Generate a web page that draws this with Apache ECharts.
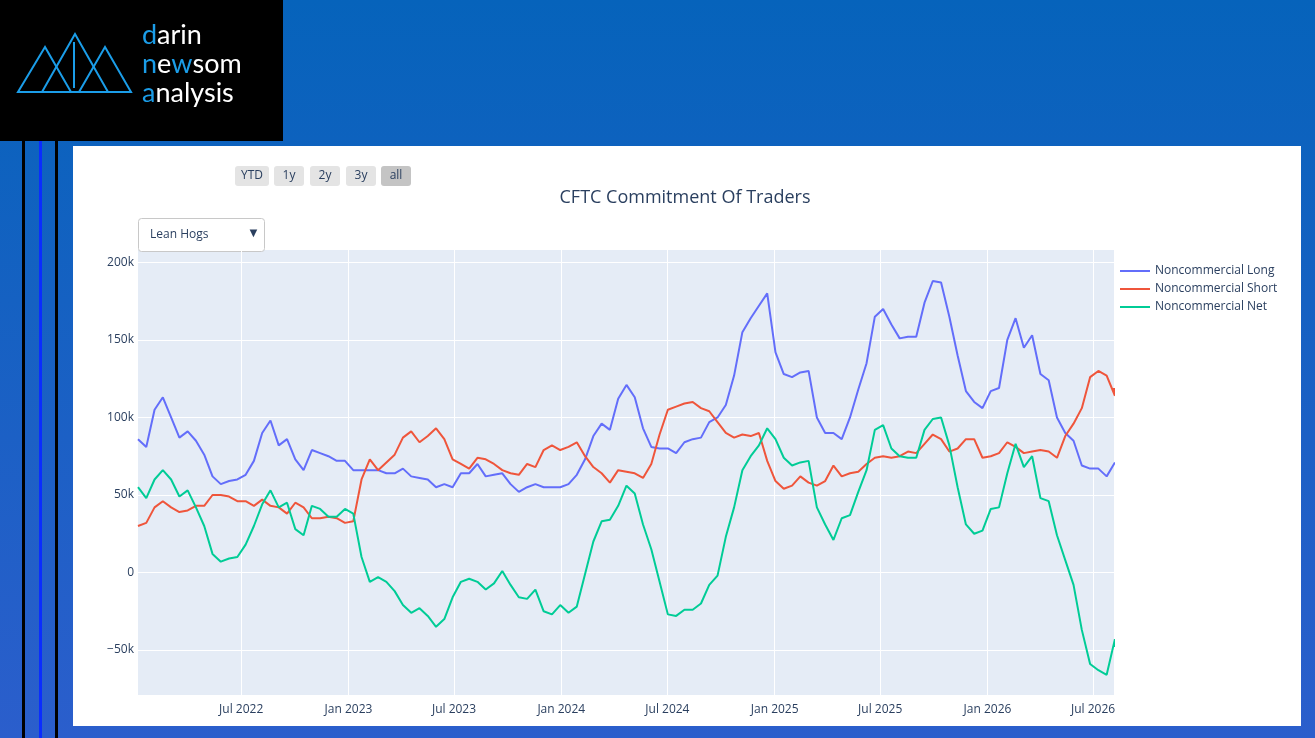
<!DOCTYPE html>
<html>
<head>
<meta charset="utf-8">
<script src="https://cdn.jsdelivr.net/npm/echarts@6/dist/echarts.min.js"></script>
<style>
  html, body { margin: 0; padding: 0; }
  body { width: 1315px; height: 738px; background: linear-gradient(180deg, #0663bb 0%, #2b5ecc 100%); overflow: hidden; }
  #main { width: 1315px; height: 738px; }
</style>
</head>
<body>
<div id="main"></div>
<script>
    // 数据：双周采样（从图上读出，单位 k）
    var startDate = '2022-01-05';
    var endDate = '2026-08-06';
    var stepDays = 14.2;
    var longVals = [86,81,105,113,100,87,91,85,76,62,57,59,60,63,72,90,98,82,86,73,66,79,77,75,72,72,66,66,66,66,64,
        64,67,62,61,60,55,57,55,64,64,70,62,63,64,57,52,55,57,55,55,55,57,63,73,88,96,92,112,121,113,93,
        81,80,80,77,84,86,87,97,100,108,127,155,164,172,180,142,128,126,129,130,100,90,90,86,100,118,135,165,170,160,
        151,152,152,174,188,187,165,140,117,110,106,117,119,150,164,145,153,128,124,100,90,85,69,67,67,62,71,70];
    var shortVals = [30,32,42,46,42,39,40,43,43,50,50,49,46,46,43,47,43,42,38,45,42,35,35,36,35,32,33,60,73,66,71,
        76,87,91,84,88,93,86,73,70,67,74,73,70,66,64,63,70,68,79,82,79,81,84,75,68,64,58,66,65,64,61,
        70,89,105,107,109,110,106,104,97,90,87,89,88,90,72,59,54,56,62,58,56,59,69,62,64,65,70,74,75,74,
        75,78,77,83,89,86,78,80,86,86,74,75,77,84,81,77,78,79,78,74,88,96,106,126,130,127,114,119];
    var netVals = [55,48,60,66,60,49,53,42,30,12,7,9,10,18,30,44,53,42,45,28,24,43,41,36,36,41,38,10,-6,-3,-6,
        -12,-21,-26,-23,-28,-35,-30,-16,-6,-4,-6,-11,-7,1,-8,-16,-17,-11,-25,-27,-21,-26,-22,-1,20,33,34,43,56,51,31,
        15,-6,-27,-28,-24,-24,-20,-8,-2,23,42,66,75,82,93,86,74,69,71,72,42,31,21,35,37,52,66,92,95,80,
        75,74,74,92,99,100,82,55,31,25,27,41,42,64,83,68,75,48,46,24,8,-8,-37,-59,-63,-66,-43,-48];
    var yTicks = [-50000, 0, 50000, 100000, 150000, 200000];
    var xTicks = ['2022-07-01','2023-01-01','2023-07-01','2024-01-01','2024-07-01','2025-01-01','2025-07-01','2026-01-01','2026-07-01'];
    var rangeButtons = ['YTD', '1y', '2y', '3y', 'all'];

    var t0 = new Date(startDate + 'T00:00:00Z').getTime();
    var tEnd = new Date(endDate + 'T00:00:00Z').getTime();
    function toSeries(vals) {
        return vals.map(function (v, i) {
            // 最后一点落在图右边缘
            var t = i === vals.length - 1 ? tEnd : t0 + i * stepDays * 86400000;
            return [t, v * 1000];
        });
    }
    var xTickTs = xTicks.map(function (d) { return new Date(d + 'T00:00:00Z').getTime(); });
    var months = ['Jan','Feb','Mar','Apr','May','Jun','Jul','Aug','Sep','Oct','Nov','Dec'];

    var myChart = echarts.init(document.getElementById('main'));

    // 顶部按钮
    var btnX = [235, 274, 310, 346, 381];
    var btnW = [34, 30, 30, 30, 30];
    var lf = { c: { fill: '#1b9de8', fontSize: 27, fontFamily: 'Lato' }, w: { fill: '#fff', fontSize: 27, fontFamily: 'Lato' } };
    var graphics = [
        { type: 'rect', shape: { x: 73, y: 146, width: 1228, height: 580 }, style: { fill: '#fff' }, z: -10 },
        { type: 'rect', shape: { x: 0, y: 0, width: 283, height: 141 }, style: { fill: '#000' } },
        { type: 'rect', shape: { x: 22, y: 141, width: 3, height: 597 }, style: { fill: '#000' } },
        { type: 'rect', shape: { x: 39, y: 141, width: 3, height: 597 }, style: { fill: '#0a2cff' } },
        { type: 'rect', shape: { x: 55, y: 141, width: 3, height: 597 }, style: { fill: '#000' } },
        { type: 'polygon', shape: { points: [[45, 47], [18, 92], [71, 92]] }, style: { fill: null, stroke: '#1b9de8', lineWidth: 2 } },
        { type: 'polygon', shape: { points: [[75, 34], [42, 92], [108, 92]] }, style: { fill: null, stroke: '#1b9de8', lineWidth: 2 } },
        { type: 'polygon', shape: { points: [[105, 47], [79, 92], [131, 92]] }, style: { fill: null, stroke: '#1b9de8', lineWidth: 2 } },
        { type: 'line', shape: { x1: 74, y1: 42, x2: 74, y2: 88 }, style: { stroke: '#1b9de8', lineWidth: 2 } },
        { type: 'text', x: 142, y: 22, style: { rich: lf, text: '{c|d}{w|arin}' } },
        { type: 'text', x: 142, y: 51, style: { rich: lf, text: '{c|n}{w|e}{c|w}{w|som}' } },
        { type: 'text', x: 142, y: 80, style: { rich: lf, text: '{c|a}{w|nalysis}' } },
        // 下拉框
        { type: 'rect', shape: { x: 138.5, y: 218.5, width: 126, height: 33, r: 3 }, style: { fill: '#fff', stroke: '#c8c8c8', lineWidth: 1 } },
        { type: 'text', x: 150, y: 229, style: { text: 'Lean Hogs', fill: '#2a3f5f', fontSize: 12, fontFamily: 'Open Sans' } },
        { type: 'text', x: 247, y: 227, style: { text: '▼', fill: '#2a3f5f', fontSize: 13 } }
    ];
    rangeButtons.forEach(function (b, i) {
        graphics.push({ type: 'rect', shape: { x: btnX[i], y: 166, width: btnW[i], height: 20, r: 3 },
            style: { fill: i === 4 ? '#c4c4c4' : '#e4e4e4' } });
        graphics.push({ type: 'text', x: btnX[i] + btnW[i] / 2, y: 176,
            style: { text: b, fill: '#2a3f5f', fontSize: 12, fontFamily: 'Open Sans', align: 'center', verticalAlign: 'middle' } });
    });

    var option = {
        color: ['#636efa', '#ef553b', '#00cc96'],
        title: {
            text: 'CFTC Commitment Of Traders',
            left: 680, top: 184, textAlign: 'center',
            textStyle: { fontSize: 18, fontWeight: 'normal', color: '#2a3f5f', fontFamily: 'Open Sans' }
        },
        legend: {
            orient: 'vertical', left: 1115, top: 260, itemGap: 6,
            itemWidth: 30, itemHeight: 2,
            icon: 'rect',
            textStyle: { color: '#2a3f5f', fontSize: 12, fontFamily: 'Open Sans' },
            data: ['Noncommercial Long', 'Noncommercial Short', 'Noncommercial Net']
        },
        grid: { left: 138, top: 250, width: 976, height: 445, backgroundColor: '#e5ecf6', show: true, borderWidth: 0 },
        xAxis: {
            type: 'value', min: t0, max: tEnd,
            axisLine: { show: false }, axisTick: { show: false, customValues: xTickTs },
            axisLabel: {
                customValues: xTickTs, color: '#2a3f5f', fontSize: 12, fontFamily: 'Open Sans', margin: 9,
                formatter: function (v) { var d = new Date(v); return months[d.getUTCMonth()] + ' ' + d.getUTCFullYear(); }
            },
            splitLine: { show: true, lineStyle: { color: '#fff', width: 1 } }
        },
        yAxis: {
            type: 'value', min: -79000, max: 208000,
            axisLine: { show: false }, axisTick: { show: false, customValues: yTicks },
            axisLabel: {
                customValues: yTicks, color: '#2a3f5f', fontSize: 12, fontFamily: 'Open Sans', margin: 4,
                formatter: function (v) { return v === 0 ? '0' : (v < 0 ? '−' + (-v / 1000) + 'k' : (v / 1000) + 'k'); }
            },
            splitLine: { show: true, lineStyle: { color: '#fff', width: 1 } }
        },
        graphic: graphics,
        series: [
            { name: 'Noncommercial Long', type: 'line', showSymbol: false, lineStyle: { width: 2 }, data: toSeries(longVals) },
            { name: 'Noncommercial Short', type: 'line', showSymbol: false, lineStyle: { width: 2 }, data: toSeries(shortVals) },
            { name: 'Noncommercial Net', type: 'line', showSymbol: false, lineStyle: { width: 2 }, data: toSeries(netVals) }
        ]
    };
    myChart.setOption(option);
</script>
</body>
</html>
